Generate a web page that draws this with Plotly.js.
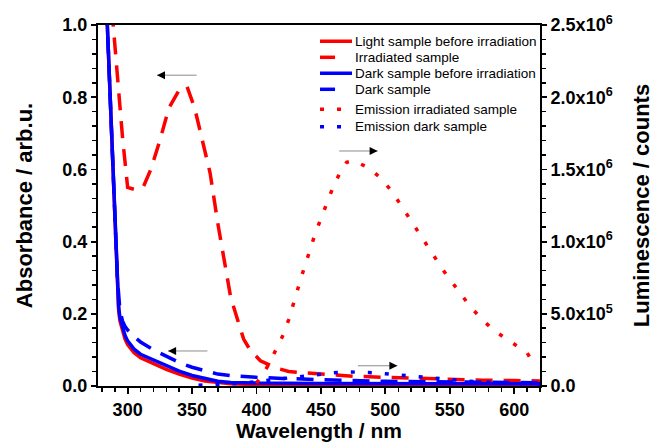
<!DOCTYPE html>
<html>
<head>
<meta charset="utf-8">
<script src="https://cdn.plot.ly/plotly-3.0.1.min.js"></script>
<style>html,body{margin:0;padding:0;background:#fff;}#chart{width:655px;height:442px;}</style>
</head>
<body>
<div id="chart"></div>
<script>
// Absorbance, light sample before irradiation (red solid)
const lightWl  = [282, 284, 286, 288, 290, 291, 292, 293, 294, 296, 298, 300, 305, 310, 320, 330, 340, 350, 360, 370, 380, 400, 450, 500, 550, 620];
const lightAbs = [1.2, 1.02, 0.84, 0.63, 0.45, 0.34, 0.26, 0.21, 0.18, 0.15, 0.13, 0.115, 0.092, 0.078, 0.062, 0.046, 0.033, 0.022, 0.014, 0.009, 0.006, 0.004, 0.003, 0.003, 0.003, 0.003];

// Absorbance, irradiated sample (red dashed)
const irrWl  = [286, 288, 292, 296, 300, 305, 312, 318, 325, 332, 340, 346, 352, 358, 364, 370, 380, 390, 395, 403, 415, 425, 450, 475, 500, 525, 550, 575, 600, 620];
const irrAbs = [1.12, 1.03, 0.865, 0.69, 0.55, 0.545, 0.55, 0.60, 0.68, 0.77, 0.82, 0.83, 0.77, 0.68, 0.59, 0.45, 0.245, 0.13, 0.10, 0.07, 0.05, 0.04, 0.034, 0.027, 0.024, 0.021, 0.018, 0.016, 0.015, 0.014];

// Absorbance, dark sample before irradiation (blue solid)
const darkBeforeWl  = [282, 284, 286, 288, 290, 291, 292, 293, 294, 296, 298, 300, 305, 310, 320, 330, 340, 350, 360, 370, 380, 400, 450, 500, 550, 620];
const darkBeforeAbs = [1.2, 1.02, 0.85, 0.64, 0.46, 0.35, 0.27, 0.22, 0.19, 0.16, 0.14, 0.125, 0.102, 0.088, 0.072, 0.055, 0.041, 0.029, 0.02, 0.013, 0.01, 0.008, 0.007, 0.007, 0.007, 0.006];

// Absorbance, dark sample (blue dashed)
const darkWl  = [282, 284, 286, 288, 290, 292, 294, 296, 298, 300, 305, 310, 320, 330, 340, 350, 360, 370, 380, 390, 400, 420, 450, 475, 500, 550, 600, 620];
const darkAbs = [1.2, 1.02, 0.85, 0.65, 0.47, 0.30, 0.21, 0.18, 0.165, 0.155, 0.137, 0.122, 0.10, 0.082, 0.065, 0.052, 0.042, 0.033, 0.029, 0.026, 0.024, 0.021, 0.017, 0.015, 0.013, 0.011, 0.009, 0.009];

// Emission, irradiated sample (red dotted, counts)
const emIrrWl = [400, 405, 410, 415, 420, 425, 430, 435, 440, 445, 450, 455, 460, 465, 470, 475, 480, 485, 490, 495, 500, 505, 510, 515, 520, 525, 530, 535, 540, 545, 550, 555, 560, 565, 570, 575, 580, 585, 590, 595, 600, 605, 610, 612];
const emIrr   = [20000, 80000, 160000, 250000, 340000, 460000, 620000, 760000, 900000, 1040000, 1160000, 1270000, 1390000, 1480000, 1550000, 1560000, 1540000, 1520000, 1490000, 1450000, 1400000, 1350000, 1280000, 1210000, 1140000, 1070000, 1000000, 930000, 860000, 800000, 740000, 680000, 620000, 560000, 510000, 460000, 420000, 380000, 350000, 320000, 290000, 260000, 230000, 200000];

// Emission, dark sample (blue dotted, counts)
const emDarkWl = [355, 370, 380, 390, 400, 410, 420, 430, 440, 450, 460, 470, 480, 490, 500, 510, 520, 530, 540, 550, 560, 570, 580, 590, 600, 610, 620];
const emDark   = [5000, 10000, 15000, 20000, 30000, 40000, 50000, 60000, 75000, 85000, 92000, 98000, 97000, 92000, 85000, 76000, 67000, 58000, 50000, 44000, 37000, 30000, 25000, 20000, 16000, 13000, 10000];

// Series names (legend)
const seriesNames = ['Light sample before irradiation', 'Irradiated sample', 'Dark sample before irradiation',
                     'Dark sample', 'Emission irradiated sample', 'Emission dark sample'];

// Right axis tick labels
const rightTickVals = [0, 500000, 1000000, 1500000, 2000000, 2500000];
const rightTickText = ['0.0', '5.0x10<sup>5</sup>', '1.0x10<sup>6</sup>', '1.5x10<sup>6</sup>', '2.0x10<sup>6</sup>', '2.5x10<sup>6</sup>'];

const RED = '#ff0000', BLUE = '#0000ff';
const FONT = 'Arial, "Liberation Sans", sans-serif';
const DASH = '17px,11px';
const DOT = '4px,13px';

const styles = [
  {color: RED, width: 3.5},
  {color: RED, width: 3.5, dash: DASH},
  {color: BLUE, width: 3.5},
  {color: BLUE, width: 3.5, dash: DASH},
  {color: RED, width: 3.5, dash: DOT},
  {color: BLUE, width: 3.5, dash: DOT}
];

const traces = [
  {x: lightWl, y: lightAbs, name: seriesNames[0], mode: 'lines', line: styles[0]},
  {x: irrWl, y: irrAbs, name: seriesNames[1], mode: 'lines', line: styles[1]},
  {x: darkBeforeWl, y: darkBeforeAbs, name: seriesNames[2], mode: 'lines', line: styles[2]},
  {x: darkWl, y: darkAbs, name: seriesNames[3], mode: 'lines', line: styles[3]},
  {x: emIrrWl, y: emIrr, name: seriesNames[4], mode: 'lines', yaxis: 'y2', line: styles[4]},
  {x: emDarkWl, y: emDark, name: seriesNames[5], mode: 'lines', yaxis: 'y2', line: styles[5]}
];

function arrow(x0, x1, y, yref) {
  return [
    {x: x1, y: y, ax: x0, ay: y, xref: 'x', yref: yref, axref: 'x', ayref: yref, text: '', showarrow: true,
     arrowhead: 0, arrowwidth: 1, arrowcolor: '#8c8c8c', standoff: 0},
    {x: x1, y: y, ax: x1 + (x0 > x1 ? 5 : -5), ay: y, xref: 'x', yref: yref, axref: 'x', ayref: yref, text: '', showarrow: true,
     arrowhead: 2, arrowsize: 1.6, arrowwidth: 1, arrowcolor: '#000', standoff: 0}
  ];
}

let annotations = [].concat(
  arrow(354.7, 322.8, 0.861, 'y'),
  arrow(463, 494, 0.651, 'y'),
  arrow(363, 331.4, 0.097, 'y'),
  arrow(477.5, 509.3, 0.056, 'y')
);

// Hand-placed legend (paper coordinates) to match compact row spacing
const legRowsY = [0.9548, 0.9105, 0.8662, 0.8219, 0.7665, 0.7183];
const keyX0 = 0.5023, keySolidX1 = 0.5747, keyDashX1 = 0.5363, keyDotX1 = 0.5543, legTextX = 0.5769;
const keyEnds = [keySolidX1, keyDashX1, keySolidX1, keyDashX1, keyDotX1, keyDotX1];
const shapes = [];
seriesNames.forEach((nm, i) => {
  const st = styles[i];
  shapes.push({type: 'line', xref: 'paper', yref: 'paper', x0: keyX0, x1: keyEnds[i], y0: legRowsY[i], y1: legRowsY[i],
               line: {color: st.color, width: st.width, dash: st.dash === DASH ? 'solid' : (st.dash || 'solid')}});
  annotations.push({xref: 'paper', yref: 'paper', x: legTextX, y: legRowsY[i], xanchor: 'left', yanchor: 'middle',
                    text: nm, showarrow: false, font: {family: FONT, size: 13.5, color: '#000'}});
});

const layout = {
  width: 655, height: 442,
  margin: {l: 98, r: 115, t: 25, b: 56, pad: 0},
  paper_bgcolor: '#fff', plot_bgcolor: '#fff',
  font: {family: FONT, color: '#000'},
  showlegend: false,
  xaxis: {
    range: [277, 620], tickmode: 'linear', tick0: 300, dtick: 50,
    showgrid: false, zeroline: false, showline: true, linecolor: '#000', linewidth: 2, mirror: true,
    ticks: 'outside', ticklen: 6, tickwidth: 1.8, tickcolor: '#000',
    tickfont: {family: FONT, size: 18, weight: 'bold', color: '#000'},
    minor: {tick0: 280, dtick: 10, ticks: 'outside', ticklen: 4, tickwidth: 1.5, tickcolor: '#000', showgrid: false},
    title: {text: 'Wavelength / nm', font: {family: FONT, size: 21, weight: 'bold', color: '#000'}, standoff: 7}
  },
  yaxis: {
    range: [0, 1], tickmode: 'linear', tick0: 0, dtick: 0.2, tickformat: '.1f',
    showgrid: false, zeroline: false, showline: true, linecolor: '#000', linewidth: 2,
    ticks: 'outside', ticklen: 5, tickwidth: 1.8, tickcolor: '#000',
    tickfont: {family: FONT, size: 18, weight: 'bold', color: '#000'},
    minor: {tick0: 0, dtick: 0.04, ticks: 'outside', ticklen: 4, tickwidth: 1.5, tickcolor: '#000', showgrid: false},
    title: {text: 'Absorbance / arb.u.', font: {family: FONT, size: 22, weight: 'bold', color: '#000'}, standoff: 24}
  },
  yaxis2: {
    overlaying: 'y', side: 'right', range: [0, 2500000],
    tickmode: 'array', tickvals: rightTickVals, ticktext: rightTickText,
    showgrid: false, zeroline: false, showline: true, linecolor: '#000', linewidth: 2,
    ticks: 'outside', ticklen: 5, tickwidth: 1.8, tickcolor: '#000',
    tickfont: {family: FONT, size: 18, weight: 'bold', color: '#000'},
    minor: {tickmode: 'linear', tick0: 0, dtick: 100000, ticks: 'outside', ticklen: 4, tickwidth: 1.5, tickcolor: '#000', showgrid: false},
    title: {text: 'Luminescence / counts', font: {family: FONT, size: 22, weight: 'bold', color: '#000'}, standoff: 22}
  },
  shapes: shapes,
  annotations: annotations
};

Plotly.newPlot('chart', traces, layout, {displayModeBar: false, staticPlot: true});
</script>
</body>
</html>
